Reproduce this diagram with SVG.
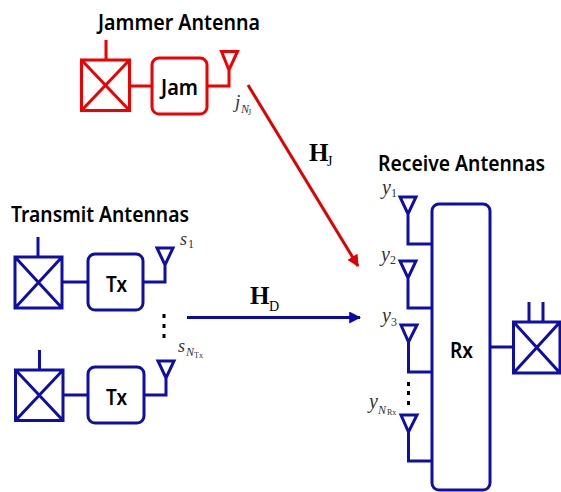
<svg xmlns="http://www.w3.org/2000/svg" width="561" height="492" viewBox="0 0 561 492">
<defs>
<marker id="ar" viewBox="0 0 10 10" refX="9" refY="5" markerWidth="4" markerHeight="4" orient="auto"><path d="M0 0L10 5L0 10z" fill="#e00000"/></marker>
<marker id="ab" viewBox="0 0 10 10" refX="9" refY="5" markerWidth="4" markerHeight="4" orient="auto"><path d="M0 0L10 5L0 10z" fill="#0a0aa8"/></marker>
</defs>
<style>
.r{fill:none;stroke:#f00000;stroke-width:3}
.b{fill:none;stroke:#0f0fa5;stroke-width:3}
.t{font-family:"Noto Sans","Liberation Sans",sans-serif;font-weight:600;fill:#000;stroke:none}
.h{font-size:21px}
.l{font-size:21px}
.m{font-family:"Liberation Serif",serif;font-style:italic;fill:#333;stroke:none}
.s{font-family:"Liberation Serif",serif;font-size:11px;fill:#333}
.x{font-size:8px}
.n{font-size:12px}
.H{font-family:"Liberation Serif",serif;font-weight:700;font-size:25px;fill:#000}
.d{font-family:"Liberation Serif",serif;font-size:14px;fill:#000}
</style>
<rect width="561" height="492" fill="#fff"/>
<text class="t h" x="98" y="30" textLength="162" lengthAdjust="spacingAndGlyphs">Jammer Antenna</text>
<text class="t h" x="11" y="222" textLength="178" lengthAdjust="spacingAndGlyphs">Transmit Antennas</text>
<text class="t h" x="378" y="171" textLength="167" lengthAdjust="spacingAndGlyphs">Receive Antennas</text>
<g id="jammer" class="r">
<path d="M106 40V60M81.500 60H129.500V110.500H81.500ZM81.500 60L129.500 110.500M129.500 60L81.500 110.500M130 86H152M207 86H229V70M221.500 51.500H237.500L229 70Z"/>
<rect x="152" y="58" width="55" height="56" rx="7"/>
<text class="t l" x="161" y="95" textLength="37" lengthAdjust="spacingAndGlyphs">Jam</text>
</g>
<g id="tx1" class="b">
<path d="M38 237V257M15 257H62V308H15ZM15 257L62 308M62 257L15 308M63 282H88M144 282H165V265M157 248H173L165 265Z"/>
<rect x="88" y="254" width="55" height="56" rx="7"/>
<text class="t l" x="106" y="292" textLength="21" lengthAdjust="spacingAndGlyphs">Tx</text>
</g>
<g id="tx2" class="b">
<path d="M39.500 350V370M15.500 370H63V420.500H15.500ZM15.500 370L63 420.500M63 370L15.500 420.500M63 395H88M144 395H166V378M158 361H174L166 378Z"/>
<rect x="88" y="367" width="56" height="56" rx="7"/>
<text class="t l" x="106" y="405" textLength="21" lengthAdjust="spacingAndGlyphs">Tx</text>
</g>
<g id="rx" class="b">
<rect x="432" y="204" width="58" height="286" rx="7"/>
<path d="M408 214V244H432M400 197H416L408 214Z"/>
<path d="M408 278V308H432M400 261H416L408 278Z"/>
<path d="M408.500 342V372H432M401 325H417L408.500 342Z"/>
<path d="M408.500 432V461H432M401 415H417L408.500 432Z"/>
<path d="M490 347H513M513.500 322H560V373H513.500ZM513.500 322L560 373M560 322L513.500 373M529 302V322M543 302V322"/>
<text class="t l" x="450" y="358" textLength="23" lengthAdjust="spacingAndGlyphs">Rx</text>
</g>
<g id="connectors">
<path d="M248 85L358 266" stroke="#e00000" stroke-width="3" fill="none" marker-end="url(#ar)"/>
<path d="M187 317.500H360" stroke="#0a0aa8" stroke-width="3" fill="none" marker-end="url(#ab)"/>
</g>
<g id="labels">
<text class="H" x="309" y="161">H</text><text class="d" x="327" y="166">J</text>
<text class="H" x="250" y="304">H</text><text class="d" x="269" y="311">D</text>
<text class="m" font-size="19" x="235" y="108">j</text><text class="m n" x="241" y="113">N</text><text class="s x" x="248" y="115">J</text>
<text class="m" font-size="18" x="180" y="245">s</text><text class="s" x="188" y="248" style="font-size:12px">1</text>
<text class="m" font-size="18" x="178" y="352">s</text><text class="m n" x="186" y="356">N</text><text class="s x" x="194" y="358">Tx</text>
<text class="m" font-size="20" x="382" y="194">y</text><text class="s" x="391" y="197" style="font-size:12px">1</text>
<text class="m" font-size="20" x="381" y="261">y</text><text class="s" x="390" y="264" style="font-size:12px">2</text>
<text class="m" font-size="20" x="382" y="322">y</text><text class="s" x="391" y="326" style="font-size:12px">3</text>
<text class="m" font-size="20" x="369" y="408">y</text><text class="m n" x="378" y="414">N</text><text class="s x" x="387" y="415">Rx</text>
</g>
<g fill="#000">
<rect x="162.500" y="314" width="3" height="4"/><rect x="162.500" y="324" width="3" height="4"/><rect x="162.500" y="334" width="3" height="4"/>
<rect x="407" y="382" width="3" height="4"/><rect x="407" y="391" width="3" height="4"/><rect x="407" y="401" width="3" height="4"/>
</g>
</svg>
